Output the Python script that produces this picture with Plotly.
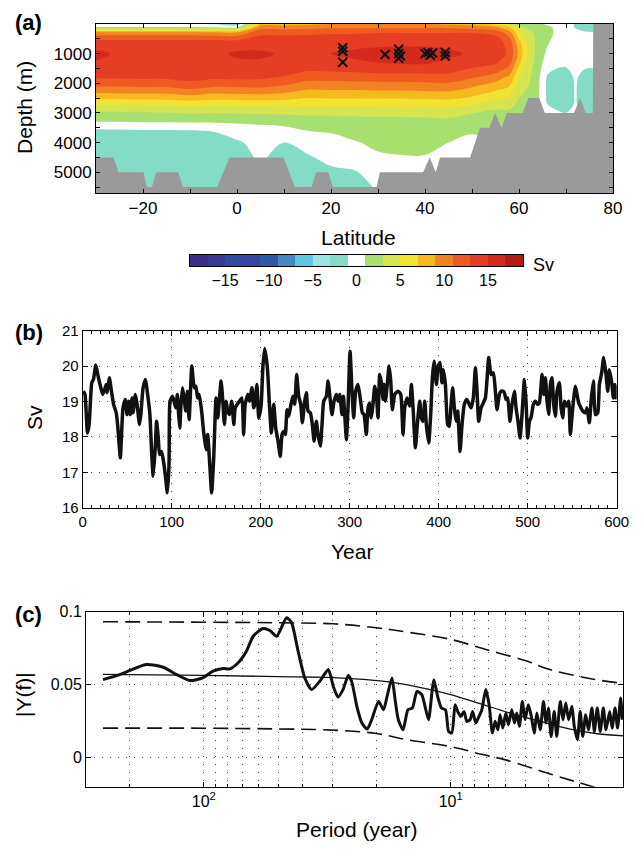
import numpy as np
import plotly.graph_objects as go

# ---------------- Panel (a): overturning streamfunction (Sv) ----------------
lat = [-30, -25, -20, -15, -10, -5, 0, 5, 10, 15, 20, 25, 30, 35, 40, 45, 50, 55,
       58, 60, 62, 64, 66, 68, 70, 72, 74, 76, 80]
depth = [0, 100, 300, 600, 1000, 1400, 1800, 2100, 2400, 2700, 3000, 3300, 3600,
         4000, 4500, 5000, 5700]
# one list per latitude (values at the depths above)
psi_cols = [
    [-0.5, 0.8, 10.0, 13.6, 15.6, 14.6, 13.2, 11.0, 8.4, 5.2, 2.6, 1.0, -1.4, -2.0, -2.0, -2.0, -2.0],
    [-0.5, 0.8, 10.0, 13.7, 14.6, 14.5, 13.3, 11.1, 8.4, 5.3, 2.7, 1.0, -1.3, -2.0, -2.0, -2.0, -2.0],
    [-0.5, 0.8, 10.0, 13.8, 14.5, 14.4, 13.4, 11.3, 8.5, 5.4, 2.8, 1.1, -1.2, -2.0, -2.0, -2.0, -2.0],
    [-0.5, 0.8, 10.0, 13.8, 14.5, 14.4, 13.4, 11.2, 8.6, 5.5, 2.9, 1.1, -1.2, -2.0, -2.0, -2.0, -2.0],
    [-0.6, 0.8, 10.0, 13.8, 14.6, 14.6, 13.8, 11.9, 9.0, 5.8, 3.1, 1.2, -1.1, -2.0, -2.0, -2.0, -2.0],
    [-1.2, 0.7, 9.8, 13.8, 14.5, 14.3, 13.4, 11.2, 8.5, 5.6, 3.0, 1.2, -0.9, -2.0, -2.0, -2.0, -2.0],
    [-2.5, 0.5, 9.5, 13.8, 15.3, 14.5, 13.5, 11.3, 8.6, 5.6, 3.1, 1.3, -0.3, -1.2, -2.0, -2.0, -2.0],
    [8.0, 10.0, 12.5, 14.2, 15.3, 14.6, 13.4, 11.4, 8.7, 5.7, 3.2, 1.4, 0.2, -0.5, -0.6, -1.0, -1.0],
    [8.0, 10.0, 12.5, 14.2, 14.8, 14.4, 12.8, 10.8, 8.4, 5.8, 3.3, 1.6, 0.4, -1.0, -2.0, -2.0, -2.0],
    [8.5, 10.0, 12.6, 14.2, 14.8, 14.1, 11.8, 9.8, 7.7, 5.6, 3.4, 2.0, 1.0, 0.0, -1.3, -2.0, -2.0],
    [9.0, 10.5, 12.8, 14.3, 15.0, 14.2, 11.8, 9.9, 7.8, 5.6, 3.4, 2.1, 1.2, 0.3, -0.3, -1.5, -2.0],
    [9.0, 10.5, 12.8, 14.3, 15.4, 14.5, 11.9, 9.9, 7.8, 5.6, 3.5, 2.2, 1.5, 0.9, 0.2, -1.2, -2.0],
    [9.0, 10.5, 13.0, 14.5, 15.6, 14.8, 12.0, 10.0, 7.9, 5.6, 3.6, 2.3, 1.8, 1.3, 0.8, 0.0, -1.0],
    [9.0, 10.5, 13.0, 14.5, 15.7, 14.9, 12.0, 10.0, 7.9, 5.6, 3.6, 2.3, 1.9, 1.5, 0.9, 0.3, 0.0],
    [9.0, 10.5, 13.0, 14.5, 15.7, 14.9, 12.1, 10.1, 8.0, 5.7, 3.7, 2.3, 1.9, 1.5, 0.9, 0.3, 0.0],
    [8.5, 10.5, 13.0, 14.5, 15.3, 14.6, 12.2, 10.2, 8.1, 5.8, 3.8, 2.4, 1.7, 1.0, 0.5, 0.0, 0.0],
    [8.0, 10.0, 13.0, 14.4, 14.8, 13.5, 11.2, 9.2, 7.3, 5.3, 3.1, 2.0, 1.2, 0.5, 0.0, 0.0, 0.0],
    [6.0, 9.0, 12.5, 14.0, 14.2, 12.8, 10.0, 8.0, 6.0, 4.0, 2.3, 1.8, 1.5, 1.0, 0.0, 0.0, 0.0],
    [4.0, 7.0, 10.0, 12.0, 12.5, 11.0, 8.5, 7.0, 5.3, 3.8, 2.5, 2.0, 1.5, 1.0, 0.0, 0.0, 0.0],
    [2.5, 3.5, 5.5, 7.5, 8.5, 7.0, 5.2, 4.0, 3.2, 2.5, 2.0, 1.8, 1.5, 1.0, 0.0, 0.0, 0.0],
    [2.0, 2.5, 3.5, 4.2, 4.5, 4.0, 3.5, 3.0, 2.5, 2.0, 1.8, 1.5, 1.2, 1.0, 0.0, 0.0, 0.0],
    [1.5, 2.2, 2.5, 2.5, 2.3, 2.0, 1.6, 1.5, 1.4, 1.3, 1.2, 1.0, 1.0, 0.5, 0.0, 0.0, 0.0],
    [0.5, 1.5, 1.8, 1.3, 0.6, -0.3, -1.2, -1.4, -1.3, -1.0, -0.5, 0.0, 0.0, 0.0, 0.0, 0.0, 0.0],
    [0.0, 0.5, 0.6, 0.2, -0.2, -0.8, -1.6, -1.7, -1.6, -1.4, -0.8, 0.0, 0.0, 0.0, 0.0, 0.0, 0.0],
    [0.0, 0.0, 0.2, 0.0, -0.3, -0.9, -1.6, -1.7, -1.6, -1.5, -1.0, 0.0, 0.0, 0.0, 0.0, 0.0, 0.0],
    [-1.2, -1.2, -0.2, 0.0, -0.2, -0.5, -0.8, -0.9, -0.9, -0.9, -0.5, 0.0, 0.0, 0.0, 0.0, 0.0, 0.0],
    [-1.6, -1.7, -0.8, 0.0, -0.2, -0.8, -1.5, -1.6, -1.6, -1.5, -1.0, 0.0, 0.0, 0.0, 0.0, 0.0, 0.0],
    [-1.6, -1.7, -0.8, 0.0, -0.2, -0.8, -1.5, -1.6, -1.6, -1.5, -1.0, 0.0, 0.0, 0.0, 0.0, 0.0, 0.0],
    [0.0] * 17,
]

bathy_lat = [-30, -26.3, -25.2, -19.9, -19.2, -18.1, -17.2, -12.5, -11.5, -4.2, -1.6, 9.9,
             12.3, 15.9, 16.8, 19.4, 20.4, 29.7, 30.4, 39.6, 41.0, 42.3, 43.2, 49.6, 51.7,
             53.7, 54.9, 56.3, 57.4, 60.8, 62.0, 64.3, 65.5, 71.7, 73.0, 74.2, 75.7, 75.8, 80]
bathy_depth = [4500, 4500, 5000, 5000, 5500, 5500, 5000, 5000, 5500, 5500, 4500, 4500,
               5500, 5500, 5000, 5000, 5500, 5500, 5000, 5000, 4500, 5000, 4500, 4500, 3500,
               3500, 3000, 3500, 3000, 3000, 2500, 2500, 3000, 3000, 2500, 3000, 3000, 0, 0]

cross_lat = [22.5, 22.5, 22.5, 31.5, 34.4, 34.4, 34.4, 34.8, 40.0, 40.6, 41.1, 41.6, 44.3, 44.3]
cross_depth = [800, 920, 1290, 1030, 850, 1000, 1160, 1080, 1000, 960, 1050, 980, 950, 1080]

cbar_bins = [-18, -16, -14, -12, -10, -8, -6, -4, -2, 0, 2, 4, 6, 8, 10, 12, 14, 16, 18]
cbar_colors = ['#3a2d8c', '#383a96', '#2f4a9e', '#3446a0', '#2c5aa8', '#4886c4', '#5ec4e4',
               '#98e4e0', '#84dcc6', '#ffffff', '#a8e070', '#d6e450', '#f2e234', '#f8b820',
               '#f28222', '#ee5a22', '#e63e24', '#d42a1e', '#b01c14']
cbar_ticks = [-15, -10, -5, 0, 5, 10, 15]

# ---------------- Panel (b): AMOC time series ----------------
year = [0.8, 2.6, 5.3, 7.2, 10.2, 12.1, 14.7, 17.7, 20.4, 22.6, 25.3, 26.4, 27.2, 30.2, 31.7,
        34.7, 37.7, 39.2, 42.3, 43, 45.3, 47.9, 49.8, 51.7, 53.6, 55.5, 56.6, 59.2, 61.1, 63.8,
        65.3, 67.9, 70.6, 72.5, 75.5, 77.4, 79.2, 81.5, 83, 84.9, 86.4, 88.7, 91.3, 93.2, 95.1,
        97, 98.1, 100.8, 102.6, 104.5, 106.4, 107.5, 109.1, 110.2, 112.1, 114, 115.8, 117.7,
        119.6, 122.6, 125.3, 127.2, 129.1, 130.9, 133.6, 135.8, 138.5, 140.4, 142.3, 144.9,
        147.2, 149.8, 151.7, 155.5, 157.4, 159.2, 161.1, 163, 164.9, 167.5, 169.8, 171.3,
        173.6, 176.2, 178.9, 180.8, 182.6, 185.7, 187.5, 190.2, 192.1, 193.2, 195.8, 197.8,
        200.5, 202.5, 204.5, 207.5, 210, 212, 214.6, 216.9, 219.5, 222, 224, 226.2, 227.7,
        229.6, 231.5, 233.3, 236, 238.2, 240.4, 242.7, 245, 246.8, 249.4, 251.3, 253.2, 255.8,
        258, 260, 262.5, 264.4, 267, 268.9, 270.8, 273.8, 275.7, 278.3, 280.1, 282.4, 285,
        286.9, 288.8, 291.4, 292.9, 295.1, 296.3, 298.1, 300.4, 302.6, 304.5, 306.7, 309.4,
        312, 314.2, 316.1, 318.7, 320.6, 322.5, 324.3, 326.2, 328.1, 330, 331.8, 333.7, 335.6,
        337.5, 338.6, 340.1, 342, 344.2, 346.1, 347.9, 350.6, 354.3, 357.3, 359.9, 361.8,
        364.4, 367.4, 369.3, 371.2, 373.8, 376, 378.7, 380.5, 382.4, 384.3, 386.1, 388.8, 391,
        392.9, 394.8, 397.4, 399.3, 401.5, 403.7, 405.2, 407.5, 410.1, 412, 413.9, 415.7,
        417.6, 419.5, 421.3, 424, 426.2, 428.8, 431.5, 433.7, 436.3, 438.9, 441.2, 443.1,
        444.9, 447.6, 449.4, 452.4, 453.9, 456.2, 458.8, 461.4, 463.7, 465.5, 468.2, 470,
        471.9, 473.8, 475.7, 477.5, 480.1, 482.4, 485, 486.9, 489.1, 491.4, 493.6, 496.3,
        498.1, 500, 501.9, 503.7, 506.4, 508.6, 511.2, 513.1, 516.1, 518, 519.9, 521.7, 523.6,
        525.5, 527.3, 529.2, 531.1, 533, 535.6, 537.5, 539.3, 541.2, 543.8, 546.1, 547.9,
        550.6, 553.6, 555.4, 557.3, 559.9, 561.8, 564.8, 566.7, 569.3, 571.2, 573.8, 576,
        578.7, 580.5, 583.1, 585.4, 588, 589.9, 591.8, 594.4, 596.3, 598.1, 600]
amoc_sv = [19.29, 19.2, 18.11, 18.35, 19.53, 19.62, 20.03, 19.67, 19.39, 19.2, 19.39, 19.48,
           19.25, 19.67, 19.39, 18.92, 18.68, 18.35, 17.41, 17.69, 18.82, 19.06, 18.63, 19.01,
           18.63, 19.1, 18.68, 19.2, 18.92, 18.35, 18.63, 19.39, 19.62, 19.29, 18.63, 17.59,
           16.89, 17.69, 18.44, 17.97, 17.5, 17.59, 17.22, 16.84, 16.42, 17.22, 19.01, 19.15,
           19.01, 18.82, 19.2, 18.73, 18.25, 18.82, 19.39, 19.1, 18.73, 19.29, 18.49, 20.0,
           19.39, 19.43, 19.1, 19.2, 18.73, 18.16, 17.64, 18.07, 17.41, 16.42, 17.41, 19.1,
           18.54, 19.58, 19.01, 18.35, 19.01, 18.73, 18.63, 19.01, 18.35, 18.82, 18.92, 19.01,
           19.1, 18.07, 18.92, 19.2, 19.01, 19.39, 18.82, 18.92, 19.48, 18.53, 18.9, 20.0,
           20.5, 19.95, 18.82, 18.11, 18.92, 18.25, 17.88, 17.45, 18.07, 18.16, 18.07, 18.77,
           18.58, 18.82, 19.15, 18.92, 19.76, 19.15, 18.92, 18.4, 19.01, 19.25, 18.73, 18.68,
           18.35, 17.88, 18.44, 18.07, 17.74, 18.35, 19.01, 19.15, 19.58, 19.01, 18.63, 19.01,
           19.2, 19.01, 19.2, 18.63, 19.15, 18.35, 17.92, 18.82, 20.42, 19.29, 18.54, 19.29,
           19.48, 19.06, 18.68, 18.63, 18.07, 18.82, 18.96, 18.54, 18.92, 19.43, 19.2, 18.54,
           19.76, 19.53, 19.06, 19.48, 19.01, 19.43, 20.0, 19.58, 18.77, 19.2, 19.29, 19.2,
           18.07, 18.82, 19.1, 18.87, 19.48, 18.82, 17.69, 18.35, 19.01, 18.54, 18.44, 19.01,
           18.35, 17.83, 18.63, 19.67, 20.14, 19.48, 20.0, 20.1, 19.53, 19.9, 19.48, 18.35,
           18.3, 18.92, 19.39, 18.82, 18.44, 18.73, 17.59, 18.35, 18.92, 19.06, 18.96, 18.82,
           19.1, 19.95, 19.29, 18.44, 18.82, 18.92, 19.1, 19.48, 20.24, 19.76, 19.81, 19.29,
           18.77, 19.2, 19.29, 19.29, 19.25, 19.06, 19.1, 18.44, 18.92, 19.29, 18.82, 18.44,
           17.97, 18.63, 19.62, 19.01, 17.97, 18.44, 18.54, 18.92, 19.01, 18.92, 18.96, 19.76,
           19.2, 19.67, 19.01, 18.63, 19.48, 19.67, 18.92, 18.58, 19.29, 19.53, 18.82, 18.54,
           19.01, 18.87, 19.01, 18.07, 18.82, 19.43, 19.2, 18.96, 18.82, 18.73, 18.68, 18.82,
           18.4, 19.01, 19.58, 18.63, 18.68, 19.48, 19.81, 20.24, 19.76, 19.29, 19.9, 19.53,
           19.1, 19.48, 19.06]

# ---------------- Panel (c): amplitude spectrum ----------------
spec_period = [256, 219, 171, 146, 129, 114, 101, 91.7, 83.5, 78.5, 72.6, 67.2, 63.1, 57.5, 54,
               50.7, 46.2, 44.1, 41.5, 39, 36.6, 33.9, 31.3, 29.9, 28.6, 27.3, 26, 25.2, 24,
               22.9, 21.8, 20.9, 19.6, 18.7, 18.1, 17.3, 16.8, 16.3, 15.6, 14.9, 14.3, 13.7,
               13.1, 12.8, 12.3, 11.9, 11.7, 11.3, 10.9, 10.5, 10.2, 9.9, 9.6, 9.37, 9.1, 8.83,
               8.61, 8.35, 8.15, 7.92, 7.68, 7.48, 7.21, 6.99, 6.78, 6.61, 6.44, 6.31, 6.15,
               5.98, 5.84, 5.66, 5.52, 5.40, 5.27, 5.13, 5.0, 4.85, 4.73, 4.59, 4.48, 4.34,
               4.21, 4.11, 4.02, 3.92, 3.81, 3.72, 3.60, 3.51, 3.42, 3.33, 3.23, 3.16, 3.07,
               2.99, 2.92, 2.84, 2.77, 2.68, 2.62, 2.55, 2.48, 2.41, 2.35, 2.27, 2.22, 2.16,
               2.11, 2.05, 2.02]
spec_amp = [0.0534, 0.0569, 0.0638, 0.0619, 0.0569, 0.0528, 0.0546, 0.0592, 0.061, 0.0608,
            0.065, 0.0729, 0.0832, 0.0885, 0.0871, 0.0832, 0.0959, 0.0924, 0.0729, 0.0546,
            0.0466, 0.0523, 0.0603, 0.0488, 0.0415, 0.0466, 0.0562, 0.0523, 0.0351, 0.0237,
            0.0195, 0.0259, 0.0385, 0.0328, 0.042, 0.0546, 0.0397, 0.0259, 0.019, 0.0328,
            0.0339, 0.0454, 0.0431, 0.0374, 0.0259, 0.0454, 0.0534, 0.042, 0.0339, 0.0328,
            0.0179, 0.0168, 0.0362, 0.0316, 0.0282, 0.0316, 0.0248, 0.0259, 0.0316, 0.0237,
            0.0282, 0.0328, 0.0466, 0.0362, 0.0168, 0.0248, 0.019, 0.0294, 0.0202, 0.0305,
            0.0225, 0.0328, 0.0237, 0.0305, 0.0214, 0.0385, 0.0259, 0.0362, 0.0294, 0.0168,
            0.0305, 0.019, 0.0385, 0.0237, 0.0339, 0.0145, 0.0316, 0.0145, 0.0385, 0.0259,
            0.0374, 0.0259, 0.0351, 0.0214, 0.0122, 0.0316, 0.0145, 0.0294, 0.019, 0.0339,
            0.0179, 0.0339, 0.0179, 0.0339, 0.019, 0.0316, 0.0202, 0.0339, 0.0202, 0.0408,
            0.0259]
red_period = [256, 100, 50, 30, 17.3, 12.1, 10, 7.6, 5.75, 4.34, 3.28, 2.55, 2]
red_amp = [0.0570, 0.0563, 0.0555, 0.0548, 0.0516, 0.0466, 0.0431, 0.0369, 0.0305, 0.0248,
           0.0195, 0.0163, 0.0149]
upper_period = [256, 100, 50, 30, 20, 15, 10, 7, 5, 4, 3, 2.5, 2]
upper_amp = [0.0931, 0.0928, 0.0924, 0.0917, 0.089, 0.086, 0.081, 0.0735, 0.0665, 0.0605,
             0.0555, 0.053, 0.0508]
lower_period = [256, 100, 50, 30, 20, 15, 10, 7.5, 6, 3.85, 2.81, 2]
lower_amp = [0.0202, 0.0201, 0.0196, 0.0188, 0.0165, 0.0122, 0.0075, 0.0022, -0.0016,
             -0.0119, -0.0188, -0.026]

# ---------------- figure ----------------
# the page body adds an 8 px margin around the plot, so the figure is 8 px smaller
OFF = 8
W, H = 641 - OFF, 852 - OFF
FONT = "Liberation Sans, Arial, sans-serif"


def px(x):
    return (x - OFF) / W


def py(y):
    return 1 - (y - OFF) / H


ncol = len(cbar_colors)
cscale = []
for i, c in enumerate(cbar_colors):
    cscale += [[i / ncol, c], [(i + 1) / ncol, c]]

Z = np.array(psi_cols).T  # depth x lat

fig = go.Figure()
fig.add_trace(go.Contour(
    x=lat, y=depth, z=Z, colorscale=cscale, zmin=-19, zmax=19, autocontour=False,
    contours=dict(start=-17, end=17, size=2, coloring='fill', showlines=False),
    line=dict(width=0, smoothing=1), showscale=False, hoverinfo='skip',
    xaxis='x', yaxis='y'))

# bathymetry closed against the bottom of the plot
fig.add_trace(go.Scatter(
    x=bathy_lat + [80, -30], y=bathy_depth + [5700, 5700], mode='lines',
    fill='toself', fillcolor='#9a9a9a', line=dict(width=0, color='#9a9a9a'),
    xaxis='x', yaxis='y', hoverinfo='skip'))

fig.add_trace(go.Scatter(
    x=cross_lat, y=cross_depth, mode='markers',
    marker=dict(symbol='x-thin', size=9, line=dict(width=2, color='#111111')),
    xaxis='x', yaxis='y'))

# colour bar drawn as a one-row heatmap on its own small axes
fig.add_trace(go.Heatmap(
    x=cbar_bins, y=[0], z=[cbar_bins], colorscale=cscale, zmin=-19, zmax=19,
    showscale=False, hoverinfo='skip', xaxis='x4', yaxis='y4'))

fig.add_trace(go.Scatter(
    x=year, y=amoc_sv, mode='lines', line=dict(color='#111111', width=3.5, shape='spline', smoothing=0.5),
    xaxis='x2', yaxis='y2'))

fig.add_trace(go.Scatter(
    x=upper_period, y=upper_amp, mode='lines', line=dict(color='#111111', width=1.6, dash='15px,7px', shape='spline'),
    xaxis='x3', yaxis='y3'))
fig.add_trace(go.Scatter(
    x=lower_period, y=lower_amp, mode='lines', line=dict(color='#111111', width=1.6, dash='15px,7px', shape='spline'),
    xaxis='x3', yaxis='y3'))
fig.add_trace(go.Scatter(
    x=red_period, y=red_amp, mode='lines', line=dict(color='#111111', width=1.3, shape='spline'),
    xaxis='x3', yaxis='y3'))
fig.add_trace(go.Scatter(
    x=spec_period, y=spec_amp, mode='lines', line=dict(color='#111111', width=3, shape='spline', smoothing=0.6),
    xaxis='x3', yaxis='y3'))

axis_common = dict(showline=True, linecolor='black', linewidth=1, mirror='ticks', ticks='inside',
                   tickcolor='black', zeroline=False, layer='above traces')
grid_common = dict(showgrid=True, gridcolor='#444444', gridwidth=1, griddash='1px,7px')

fig.update_layout(
    width=W, height=H, margin=dict(l=0, r=0, t=0, b=0, autoexpand=False),
    paper_bgcolor='white', plot_bgcolor='white', showlegend=False,
    font=dict(family=FONT, color='black'),
    xaxis=dict(domain=[px(96), px(613)], anchor='y', range=[-30, 80],
               tickvals=[-20, 0, 20, 40, 60, 80], ticklen=4, showgrid=False,
               minor=dict(dtick=10, tick0=0, ticks='inside', ticklen=4, tickcolor='black'),
               tickfont=dict(size=17), **axis_common),
    yaxis=dict(domain=[py(193), py(24)], anchor='x', range=[5700, 0],
               tickvals=[1000, 2000, 3000, 4000, 5000], ticklen=4, showgrid=False,
               minor=dict(dtick=500, tick0=0, ticks='inside', ticklen=4, tickcolor='black'),
               tickfont=dict(size=17), **axis_common),
    xaxis2=dict(domain=[px(82.7), px(616.7)], anchor='y2', range=[0, 600],
                tickvals=[0, 100, 200, 300, 400, 500, 600], ticklen=5,
                minor=dict(dtick=10, tick0=0, ticks='inside', ticklen=3, tickcolor='black'),
                tickfont=dict(size=15), **grid_common, **axis_common),
    yaxis2=dict(domain=[py(507.7), py(330.7)], anchor='x2', range=[16, 21],
                tickvals=[16, 17, 18, 19, 20, 21], ticklen=5,
                tickfont=dict(size=15), **grid_common, **axis_common),
    xaxis3=dict(domain=[px(86), px(623.3)], anchor='y3', type='log',
                range=[np.log10(300), np.log10(2)],
                tickvals=[100, 10], ticktext=['10<sup>2</sup>', '10<sup>1</sup>'], ticklen=5,
                minor=dict(tickvals=[300, 200, 90, 80, 70, 60, 50, 40, 30, 20, 9, 8, 7, 6, 5, 4, 3, 2],
                           ticks='inside', ticklen=3, tickcolor='black', showgrid=True,
                           gridcolor='#444444', griddash='1px,7px'),
                tickfont=dict(size=16), **grid_common, **axis_common),
    yaxis3=dict(domain=[py(786.7), py(611.7)], anchor='x3', range=[-0.02, 0.1],
                tickvals=[0, 0.05, 0.1], ticktext=['0', '0.05', '0.1'], ticklen=5,
                tickfont=dict(size=16), **grid_common, **axis_common),
    xaxis4=dict(domain=[px(190), px(523)], anchor='y4', range=[-19, 19],
                tickvals=cbar_ticks, ticks='', showline=True, mirror=True, linecolor='black',
                linewidth=1, showgrid=False, zeroline=False, tickfont=dict(size=16),
                layer='above traces', fixedrange=True),
    yaxis4=dict(domain=[py(266), py(255)], anchor='x4', range=[-0.5, 0.5],
                showticklabels=False, ticks='', showline=True, mirror=True, linecolor='black',
                linewidth=1, showgrid=False, zeroline=False, layer='above traces', fixedrange=True),
)

ann = [
    dict(text='<b>(a)</b>', x=px(13), y=py(22), xanchor='left', yanchor='middle', font=dict(size=22)),
    dict(text='<b>(b)</b>', x=px(13), y=py(332), xanchor='left', yanchor='middle', font=dict(size=22)),
    dict(text='<b>(c)</b>', x=px(13), y=py(614), xanchor='left', yanchor='middle', font=dict(size=22)),
    dict(text='Depth (m)', x=px(24), y=py(108), textangle=-90, xanchor='center', yanchor='middle', font=dict(size=21)),
    dict(text='Latitude', x=px(358), y=py(237), xanchor='center', yanchor='middle', font=dict(size=21)),
    dict(text='Sv', x=px(531), y=py(265), xanchor='left', yanchor='middle', font=dict(size=18)),
    dict(text='Sv', x=px(35), y=py(418), textangle=-90, xanchor='center', yanchor='middle', font=dict(size=21)),
    dict(text='Year', x=px(352), y=py(551), xanchor='center', yanchor='middle', font=dict(size=21)),
    dict(text='|Y(f)|', x=px(23), y=py(694), textangle=-90, xanchor='center', yanchor='middle', font=dict(size=21)),
    dict(text='Period (year)', x=px(356), y=py(829), xanchor='center', yanchor='middle', font=dict(size=21)),
]
for a in ann:
    a.update(xref='paper', yref='paper', showarrow=False)
    a['font'].update(family=FONT, color='black')
fig.update_layout(annotations=ann)

fig.write_html("out.html")
